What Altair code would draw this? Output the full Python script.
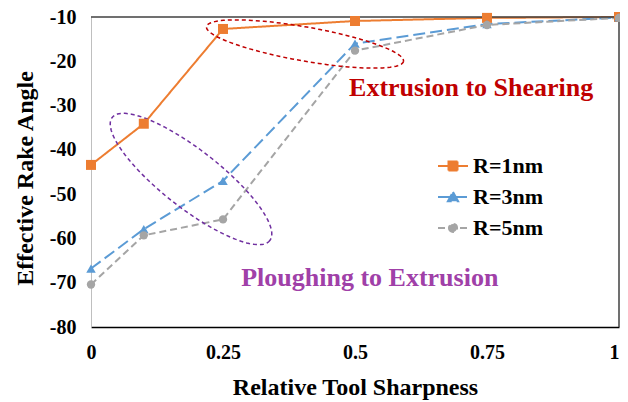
import altair as alt
import pandas as pd
import numpy as np

# ---- data ----
x_vals = [0, 0.1, 0.25, 0.5, 0.75, 1]
r1 = [-43.4, -34.1, -12.7, -10.9, -10.2, -10.0]
r3 = [-66.8, -57.9, -47.0, -16.0, -11.6, -10.1]
r5 = [-70.4, -59.3, -55.7, -17.6, -11.8, -10.2]
series = ["R=1nm", "R=3nm", "R=5nm"]
colors = ["#ED7D31", "#5B9BD5", "#A5A5A5"]
dashes = [[1, 0], [12, 5], [7, 4]]
shapes = ["square", "triangle-up", "circle"]
msizes = [100, 90, 70]
legend_paths = [
    "M-1,0H1M-0.3,-0.3H0.3V0.3H-0.3Z",
    "M-1,0H1M0,-0.34L0.34,0.28H-0.34Z",
    "M-1,0H1M-0.27,0A0.27,0.27 0 1,0 0.27,0A0.27,0.27 0 1,0 -0.27,0Z",
]
x_ticks = [0, 0.25, 0.5, 0.75, 1]
y_ticks = [-80, -70, -60, -50, -40, -30, -20, -10]

ann_texts = ["Extrusion to Shearing", "Ploughing to Extrusion"]
ann_x = [0.72, 0.528]
ann_y = [-26.0, -68.9]
ann_colors = ["#C00000", "#A040A8"]

FONT = "Liberation Serif"
W, H = 528, 310

rows = []
for s, vals, sz in zip(series, [r1, r3, r5], msizes):
    for xv, yv in zip(x_vals, vals):
        rows.append({"x": xv, "y": yv, "series": s, "msize": sz})
df = pd.DataFrame(rows)


# ellipse decorations (pixel-based geometry converted to data units)
def ellipse(cx, cy, a, b, ang_deg, n=140):
    t = np.linspace(0, 2 * np.pi, n)
    ang = np.radians(ang_deg)
    px = cx + a * np.cos(t) * np.cos(ang) - b * np.sin(t) * np.sin(ang)
    py = cy + a * np.cos(t) * np.sin(ang) + b * np.sin(t) * np.cos(ang)
    xd = px / W
    yd = -10 - py * 70 / H
    return pd.DataFrame({"x": xd, "y": yd, "i": np.arange(n)})


ell_red_df = ellipse(214, 27, 100, 17, 10)
ell_pur_df = ellipse(100, 162, 100, 29, 38)

xscale = alt.Scale(domain=[0, 1], nice=False, zero=False)
yscale = alt.Scale(domain=[-80, -10], nice=False, zero=False)

xaxis = alt.Axis(values=x_ticks, labelExpr="'' + datum.value", grid=False, ticks=False, tickSize=0,
                 labelFont=FONT, labelFontSize=20, labelFontWeight="bold", labelColor="black",
                 labelBaseline="middle", labelPadding=25, labelFlush=False,
                 labelAlign={"condition": {"test": "datum.value == 1", "value": "right"},
                             "value": "center"},
                 domainColor="black", domainWidth=1.5,
                 title="Relative Tool Sharpness", titleFont=FONT, titleFontSize=24,
                 titleFontWeight="bold", titleColor="black", titleBaseline="middle", titleY=60)
yaxis = alt.Axis(values=y_ticks, labelExpr="'' + datum.value", grid=False, ticks=False, tickSize=0,
                 labelFont=FONT, labelFontSize=20, labelFontWeight="bold", labelColor="black",
                 labelPadding=15, labelFlush=False,
                 domainColor="#BFBFBF", domainWidth=1,
                 title="Effective Rake Angle", titleFont=FONT, titleFontSize=24,
                 titleFontWeight="bold", titleColor="black", titleAngle=-90,
                 titleBaseline="alphabetic", titleX=-59, titleY=161, titleAlign="center")

X = alt.X("x:Q", scale=xscale, axis=xaxis)
Y = alt.Y("y:Q", scale=yscale, axis=yaxis)

color_enc = alt.Color("series:N", scale=alt.Scale(domain=series, range=colors), legend=None)

lines = alt.Chart(df).mark_line(strokeWidth=2).encode(
    x=X, y=Y, color=color_enc,
    strokeDash=alt.StrokeDash("series:N", scale=alt.Scale(domain=series, range=dashes), legend=None),
)

points = alt.Chart(df).mark_point(filled=True, opacity=1).encode(
    x=X, y=Y, color=color_enc,
    shape=alt.Shape("series:N", scale=alt.Scale(domain=series, range=shapes), legend=None),
    size=alt.Size("msize:Q", scale=None),
)

legend_layers = []
for k, (s, c, d, p) in enumerate(zip(series, colors, dashes, legend_paths)):
    leg = alt.Legend(title=None, orient="none", legendX=346, legendY=133 + 31 * k, padding=0,
                     symbolType=p, symbolSize=900, symbolStrokeWidth=2, symbolDash=d,
                     symbolStrokeColor=c, symbolFillColor=c,
                     labelOffset=4, labelFont=FONT, labelFontSize=22, labelFontWeight="bold",
                     labelColor="black")
    legend_layers.append(
        alt.Chart(df).transform_filter(alt.datum.series == s).transform_filter("false").mark_point(
            filled=True, opacity=1, stroke=c, strokeWidth=2, strokeDash=d).encode(
            x=X, y=Y,
            color=alt.Color("series:N", scale=alt.Scale(domain=[s], range=[c]), legend=leg),
        )
    )

ell_red = alt.Chart(ell_red_df).mark_line(
    color="#C00000", strokeDash=[4, 3], strokeWidth=1.5).encode(x=X, y=Y, order="i:Q")
ell_pur = alt.Chart(ell_pur_df).mark_line(
    color="#7030A0", strokeDash=[4, 3], strokeWidth=1.5).encode(x=X, y=Y, order="i:Q")

texts = [
    alt.Chart(pd.DataFrame({"x": [xv], "y": [yv], "t": [t]})).mark_text(
        font=FONT, fontSize=26, fontWeight="bold", color=c).encode(x=X, y=Y, text="t:N")
    for t, xv, yv, c in zip(ann_texts, ann_x, ann_y, ann_colors)
]

top_rule = alt.Chart(pd.DataFrame({"y": [y_ticks[-1]]})).mark_rule(
    color="#404040", strokeWidth=1.5).encode(y=Y)
right_rule = alt.Chart(pd.DataFrame({"x": [x_ticks[-1]]})).mark_rule(
    color="#404040", strokeWidth=1.5).encode(x=X)

chart = alt.layer(
    lines, top_rule, right_rule, ell_red, ell_pur, points, *legend_layers, *texts
).resolve_scale(color="independent").properties(
    width=W, height=H,
    padding={"left": 83, "top": 9, "right": 1, "bottom": 75},
    autosize=alt.AutoSizeParams(type="none"),
).configure_view(stroke=None)

chart.save("out.html", embed_options={"renderer": "svg", "actions": False})
